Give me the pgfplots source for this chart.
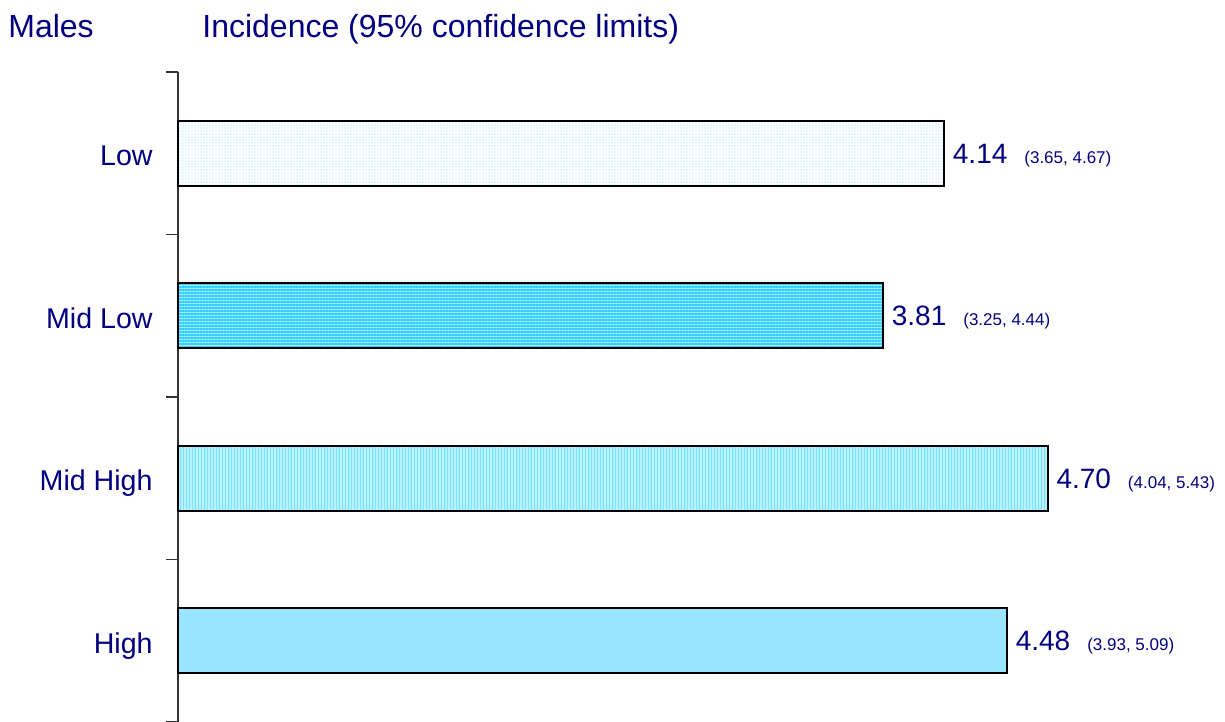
\documentclass[border=0pt]{standalone}
\usepackage{fontspec}
\setmainfont{Liberation Sans}
\usepackage{pgfplots}
\pgfplotsset{compat=1.18}
\usetikzlibrary{patterns.meta}
\definecolor{navytext}{RGB}{0,0,128}
\definecolor{cyanA}{RGB}{51,204,255}
\definecolor{cyanB}{RGB}{150,235,255}
\definecolor{cyanC}{RGB}{185,242,255}
\definecolor{cyanD}{RGB}{120,225,255}
\begin{document}
\begin{tikzpicture}
\path[use as bounding box] (0,0) rectangle (612.5pt,361pt);
\begin{axis}[
  at={(89pt,0pt)}, anchor=south west,
  scale only axis, width=518pt, height=325pt,
  xmin=0, xmax=5.6, ymin=-0.5, ymax=3.5, y dir=reverse,
  axis x line=none,
  axis y line*=left,
  y axis line style={line width=0.6pt, black!80},
  xbar, bar width=32.5pt, bar shift=0pt,
  ytick={0,1,2,3},
  yticklabels={Low,Mid Low,Mid High,High},
  major tick length=0pt,
  minor ytick={-0.5,0.5,1.5,2.5,3.5},
  minor tick length=6pt,
  tick align=outside,
  tick style={black!80, line width=0.6pt},
  yticklabel style={font=\fontsize{14.3}{16}\selectfont, text=navytext, anchor=base east, inner sep=0pt, xshift=-12.5pt, yshift=-6.3pt},
  nodes near coords,
  point meta=explicit symbolic,
  every node near coord/.append style={anchor=base west, yshift=-5pt, xshift=4pt, inner sep=0pt, text=navytext, font=\fontsize{14}{16}\selectfont},
  clip=false,
]
\addplot[draw=black, line width=1pt, fill=white, postaction={pattern={Dots[distance=1.5pt, radius=0.3pt]}, pattern color=cyanA!60}]
  table[meta=lab] {
  x y lab
  4.14 0 {4.14\hspace{8.5pt}{\fontsize{8.5}{10}\selectfont(3.65, 4.67)}}
};
\addplot[draw=black, line width=1pt, fill=cyanB, postaction={pattern={Lines[angle=0, distance=1.5pt, line width=0.7pt]}, pattern color=cyanA}]
  table[meta=lab] {
  x y lab
  3.81 1 {3.81\hspace{8.5pt}{\fontsize{8.5}{10}\selectfont(3.25, 4.44)}}
};
\addplot[draw=black, line width=1pt, fill=cyanC, postaction={pattern={Lines[angle=90, distance=1.5pt, line width=0.5pt]}, pattern color=cyanD}]
  table[meta=lab] {
  x y lab
  4.70 2 {4.70\hspace{8.5pt}{\fontsize{8.5}{10}\selectfont(4.04, 5.43)}}
};
\addplot[draw=black, line width=1pt, fill=white, postaction={pattern={Dots[distance=1pt, radius=0.45pt]}, pattern color=cyanA}]
  table[meta=lab] {
  x y lab
  4.48 3 {4.48\hspace{8.5pt}{\fontsize{8.5}{10}\selectfont(3.93, 5.09)}}
};
\end{axis}
\node[anchor=base west, inner sep=0pt, text=navytext, font=\fontsize{16}{19}\selectfont] at (4pt,342pt) {Males};
\node[anchor=base west, inner sep=0pt, text=navytext, font=\fontsize{16}{19}\selectfont] at (101pt,342pt) {Incidence (95\% confidence limits)};
\end{tikzpicture}
\end{document}
